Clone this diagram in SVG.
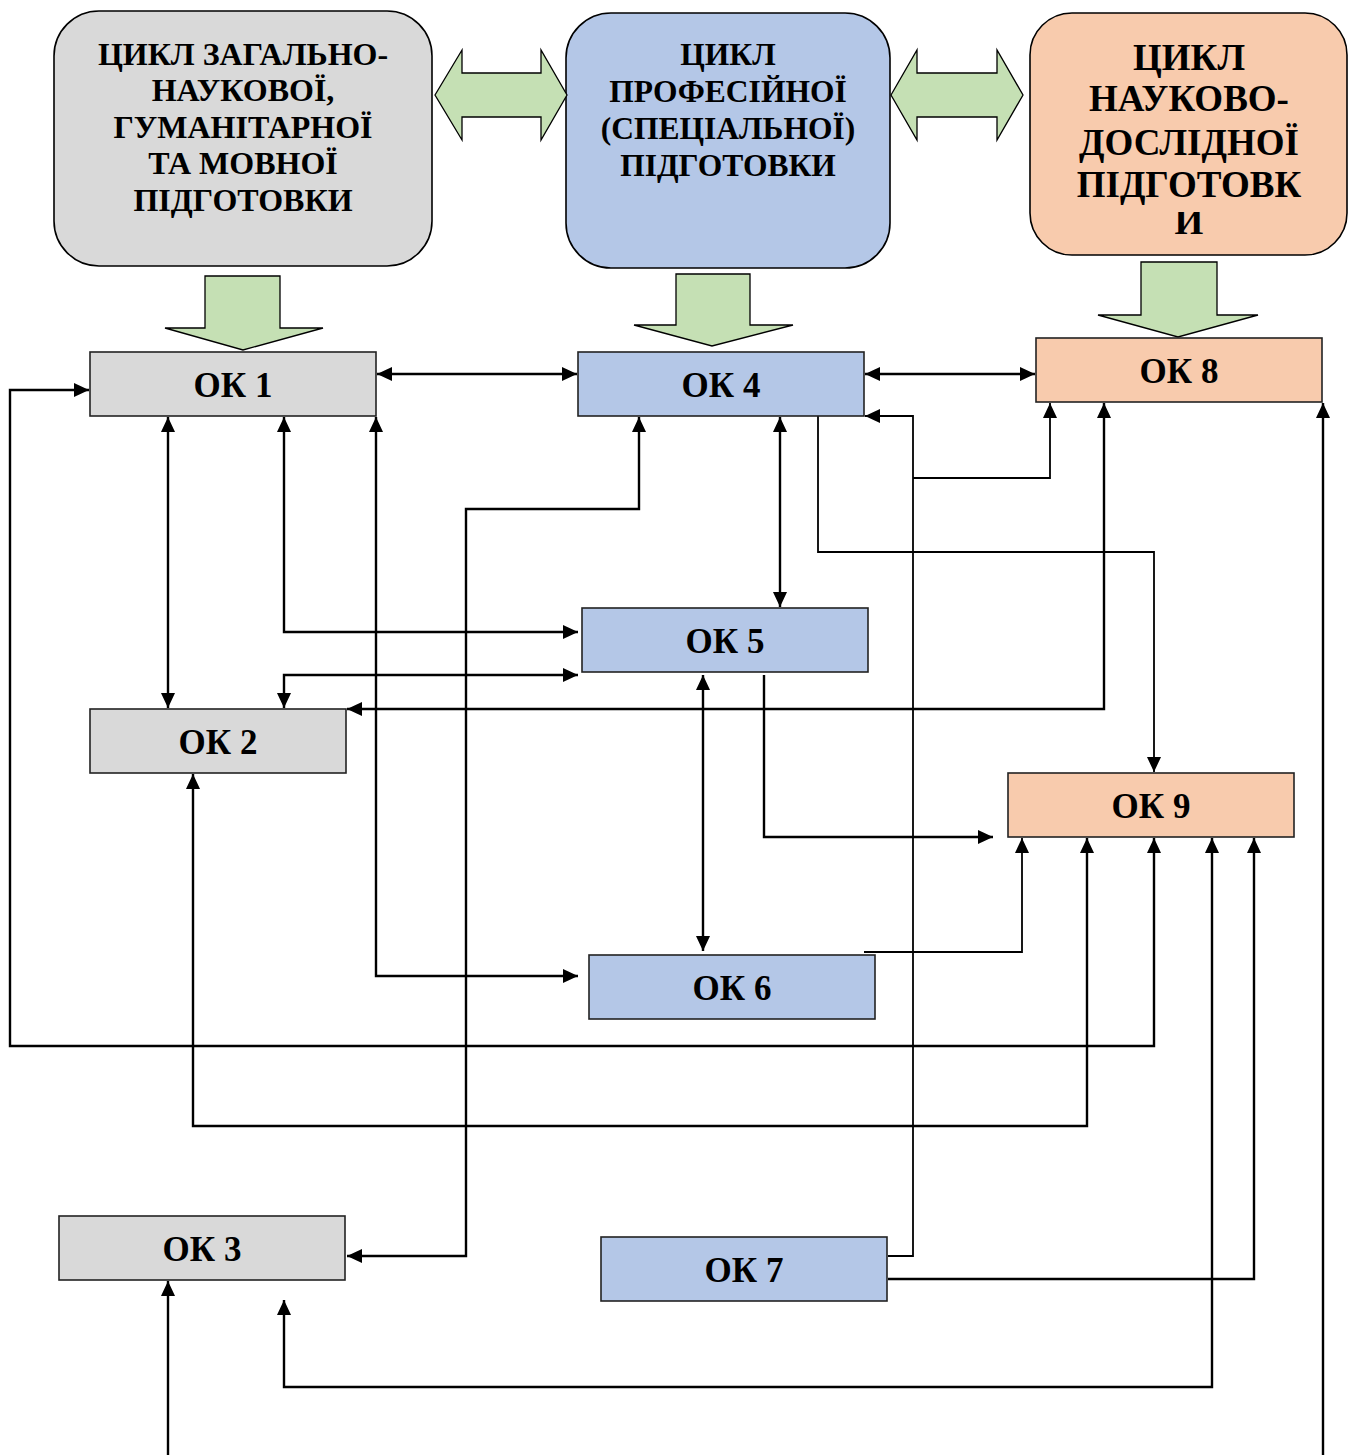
<svg xmlns="http://www.w3.org/2000/svg" width="1356" height="1455" viewBox="0 0 1356 1455">
<style>
.title{font-family:"Liberation Serif","Times New Roman",serif;font-weight:bold;text-anchor:middle;fill:#000}
.t1{font-size:32px}
.t1b{font-size:31.5px}
.t2{font-size:37px}
.ok{font-family:"Liberation Serif","Times New Roman",serif;font-weight:bold;font-size:35px;text-anchor:middle;fill:#000}
.gray{fill:#d9d9d9}
.blue{fill:#b4c7e7}
.peach{fill:#f8cbad}
.rbox{stroke:#000;stroke-width:1.6}
.box{stroke:#222;stroke-width:1.6}
.green{fill:#c5e0b4;stroke:#000;stroke-width:1.3;stroke-linejoin:miter}
.c{fill:none;stroke:#000;stroke-width:2.4}
.ct{fill:none;stroke:#000;stroke-width:1.8}
.e{marker-end:url(#ah)}
.s{marker-start:url(#ah)}
</style>
<defs>
<marker id="ah" markerUnits="userSpaceOnUse" markerWidth="15" markerHeight="14" refX="15" refY="7" orient="auto-start-reverse">
<path d="M0,0 L15,7 L0,14 z" fill="#000"/>
</marker>
<clipPath id="cutI"><rect x="1150" y="212" width="80" height="40"/></clipPath>
</defs>

<g id="cycle-general">
<rect class="gray rbox" x="54" y="11" width="378" height="255" rx="45" ry="45"/>
<text class="title t1" x="243" y="65">ЦИКЛ ЗАГАЛЬНО-</text>
<text class="title t1" x="243" y="101">НАУКОВОЇ,</text>
<text class="title t1" x="243" y="138">ГУМАНІТАРНОЇ</text>
<text class="title t1" x="243" y="174">ТА МОВНОЇ</text>
<text class="title t1" x="243" y="211">ПІДГОТОВКИ</text>
</g>
<g id="cycle-professional">
<rect class="blue rbox" x="566" y="13" width="324" height="255" rx="45" ry="45"/>
<text class="title t1b" x="728" y="65">ЦИКЛ</text>
<text class="title t1b" x="728" y="102">ПРОФЕСІЙНОЇ</text>
<text class="title t1b" x="728" y="139">(СПЕЦІАЛЬНОЇ)</text>
<text class="title t1b" x="728" y="176">ПІДГОТОВКИ</text>
</g>
<g id="cycle-research">
<rect class="peach rbox" x="1030" y="13" width="317" height="242" rx="42" ry="42"/>
<text class="title t2" x="1189" y="70">ЦИКЛ</text>
<text class="title t2" x="1189" y="111">НАУКОВО-</text>
<text class="title t2" x="1189" y="155">ДОСЛІДНОЇ</text>
<text class="title t2" x="1189" y="197">ПІДГОТОВК</text>
<text class="title t2" x="1189" y="234" clip-path="url(#cutI)">И</text>
</g>

<g id="block-arrows">
<polygon class="green" points="435,95 462,50 462,73 541,73 541,50 567,95 541,140 541,117 462,117 462,140"/>
<polygon class="green" points="891,95 917,50 917,73 997,73 997,50 1023,95 997,140 997,117 917,117 917,140"/>
<polygon class="green" points="205,276 280,276 280,328 323,328 243,350 165,328 205,328"/>
<polygon class="green" points="676,274 750,274 750,325 793,325 712,346 634,325 676,325"/>
<polygon class="green" points="1141,262 1217,262 1217,315 1258,315 1178,337 1098,315 1141,315"/>
</g>

<g id="connectors">
<path class="c s e" d="M377,374 H577"/>
<path class="c s e" d="M865,374 H1035"/>
<path class="c s e" d="M168,417 V708"/>
<path class="c s e" d="M284,417 V632 H578"/>
<path class="c s e" d="M376,417 V976 H578"/>
<path class="c s e" d="M284,708 V675 H578"/>
<path class="c s e" d="M1104,403 V709 H347"/>
<path class="c s e" d="M639,417 V509 H466 V1256 H347"/>
<path class="c s e" d="M780,417 V607"/>
<path class="ct e" d="M818,416 V552 H1154 V772"/>
<path class="ct e" d="M888,1256 H913 V416 H865"/>
<path class="ct e" d="M913,478 H1050 V403"/>
<path class="c e" d="M764,675 V837 H993"/>
<path class="c s e" d="M703,675 V951"/>
<path class="ct e" d="M864,952 H1022 V838"/>
<path class="c s e" d="M1154,838 V1046 H10 V390 H89"/>
<path class="c s e" d="M1087,838 V1126 H193 V774"/>
<path class="c s e" d="M1212,838 V1387 H284 V1300"/>
<path class="c e" d="M888,1279 H1254 V838"/>
<path class="c e" d="M168,1455 V1281"/>
<path class="c e" d="M1323,1455 V403"/>
</g>

<g id="ok1"><rect class="gray box" x="90" y="352" width="286" height="64"/><text class="ok" x="233" y="397">ОК 1</text></g>
<g id="ok4"><rect class="blue box" x="578" y="352" width="286" height="64"/><text class="ok" x="721" y="397">ОК 4</text></g>
<g id="ok8"><rect class="peach box" x="1036" y="338" width="286" height="64"/><text class="ok" x="1179" y="383">ОК 8</text></g>
<g id="ok5"><rect class="blue box" x="582" y="608" width="286" height="64"/><text class="ok" x="725" y="653">ОК 5</text></g>
<g id="ok2"><rect class="gray box" x="90" y="709" width="256" height="64"/><text class="ok" x="218" y="754">ОК 2</text></g>
<g id="ok9"><rect class="peach box" x="1008" y="773" width="286" height="64"/><text class="ok" x="1151" y="818">ОК 9</text></g>
<g id="ok6"><rect class="blue box" x="589" y="955" width="286" height="64"/><text class="ok" x="732" y="1000">ОК 6</text></g>
<g id="ok3"><rect class="gray box" x="59" y="1216" width="286" height="64"/><text class="ok" x="202" y="1261">ОК 3</text></g>
<g id="ok7"><rect class="blue box" x="601" y="1237" width="286" height="64"/><text class="ok" x="744" y="1282">ОК 7</text></g>
</svg>
